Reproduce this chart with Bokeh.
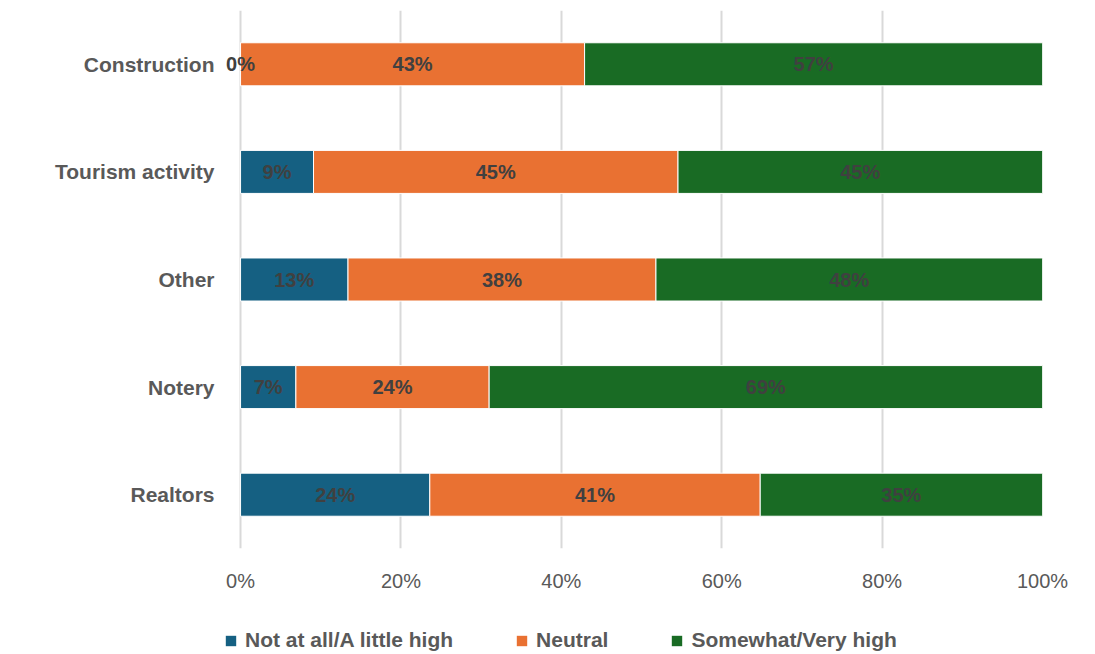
from bokeh.plotting import figure
from bokeh.layouts import column
from bokeh.models import ColumnDataSource, Legend, LegendItem, FixedTicker, PrintfTickFormatter, Range1d, FactorRange, LabelSet
from bokeh.core.properties import value
from bokeh.embed import file_html
from bokeh.resources import INLINE

categories = ["Construction", "Tourism activity", "Other", "Notery", "Realtors"]
not_at_all = [0.0, 9.1, 13.4, 6.9, 23.6]
neutral = [42.9, 45.45, 38.4, 24.1, 41.2]
somewhat = [57.1, 45.45, 48.2, 69.0, 35.2]
series_names = ["Not at all/A little high", "Neutral", "Somewhat/Very high"]
colors = ["#156082", "#E97132", "#196B24"]
x_ticks = [0, 20, 40, 60, 80, 100]

p = figure(output_backend="svg", toolbar_location=None,
           y_range=FactorRange(*list(reversed(categories)), range_padding=0),
           x_range=Range1d(-2.5, 100),
           frame_width=822, frame_height=538,
           min_border_left=220, min_border_right=45, min_border_top=10, min_border_bottom=60)
p.outline_line_color = None

src = ColumnDataSource(dict(cat=categories, a=not_at_all, b=neutral, c=somewhat))
renderers = p.hbar_stack(["a", "b", "c"], y="cat", height=0.4, color=colors,
                         line_color="white", line_width=1, source=src)

# data labels
series = [not_at_all, neutral, somewhat]
lx, ly, lt = [], [], []
for i, cat in enumerate(categories):
    left = 0.0
    for s in series:
        v = s[i]
        lx.append(left + v / 2)
        ly.append(cat)
        lt.append("{:.0f}%".format(v))
        left += v
lab_src = ColumnDataSource(dict(x=lx, y=ly, t=lt))
labels = LabelSet(x="x", y="y", text="t", source=lab_src, text_align="center",
                  text_baseline="middle", text_font=value("Liberation Sans"), text_font_style="bold",
                  text_font_size="20px", text_color="#404040")
p.add_layout(labels)

p.xaxis.ticker = FixedTicker(ticks=x_ticks)
p.xaxis.formatter = PrintfTickFormatter(format="%d%%")
p.xaxis.axis_line_color = None
p.xaxis.major_tick_line_color = None
p.xaxis.minor_tick_line_color = None
p.xaxis.major_tick_out = 0
p.xaxis.major_tick_in = 0
p.xaxis.minor_tick_out = 0
p.xaxis.major_label_text_font = "Liberation Sans"
p.xaxis.major_label_text_font_size = "20px"
p.xaxis.major_label_text_color = "#595959"
p.xaxis.major_label_standoff = 21

p.yaxis.axis_line_color = None
p.yaxis.major_tick_line_color = None
p.yaxis.minor_tick_line_color = None
p.yaxis.major_tick_out = 0
p.yaxis.major_tick_in = 0
p.yaxis.minor_tick_out = 0
p.yaxis.major_label_text_font = "Liberation Sans"
p.yaxis.major_label_text_font_style = "bold"
p.yaxis.major_label_text_font_size = "21px"
p.yaxis.major_label_text_color = "#595959"
p.yaxis.major_label_standoff = 6

p.ygrid.grid_line_color = None
p.xgrid.grid_line_color = "#d9d9d9"
p.xgrid.grid_line_width = 2
p.xgrid.ticker = FixedTicker(ticks=x_ticks)

# legend strip below the chart
lg = figure(width=1087, height=46, output_backend="svg", toolbar_location=None,
            x_range=Range1d(0, 1), y_range=Range1d(0, 1),
            min_border_left=0, min_border_right=0, min_border_top=0, min_border_bottom=0)
lg.axis.visible = False
lg.grid.visible = False
lg.outline_line_color = None
offscreen = ColumnDataSource(dict(x=[-10.0], y=[-10.0]))
dummies = [lg.rect(x="x", y="y", width=0.1, height=0.1, source=offscreen,
                   fill_color=c, line_color=None) for c in colors]
legend = Legend(items=[LegendItem(label=n, renderers=[r]) for n, r in zip(series_names, dummies)],
                orientation="horizontal", location=(4, 2),
                label_text_font="Liberation Sans", label_text_font_style="bold",
                label_text_font_size="21px", label_text_color="#595959",
                glyph_width=13, glyph_height=13, label_standoff=8, spacing=62,
                border_line_color=None, background_fill_alpha=0, padding=2, margin=0)
lg.add_layout(legend, "center")

layout = column(p, lg, spacing=0)
open("out.html", "w").write(file_html(layout, INLINE))
